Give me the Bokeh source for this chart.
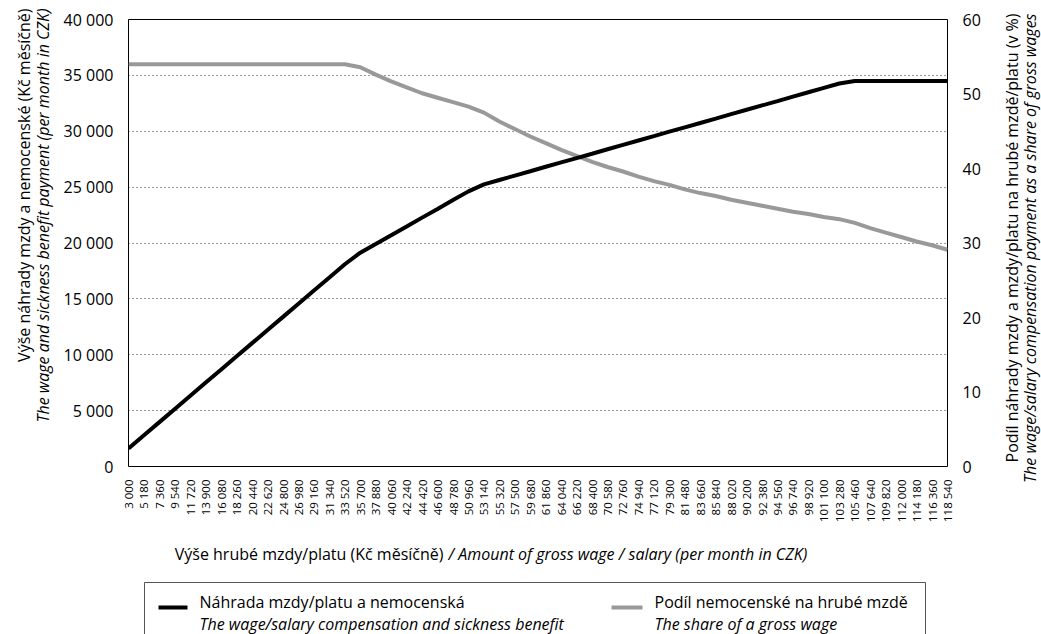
import math
from bokeh.plotting import figure
from bokeh.models import Range1d, LinearAxis, FixedTicker, Label
from bokeh.layouts import row, column
from bokeh.embed import file_html
from bokeh.resources import INLINE

# ---- data -------------------------------------------------------------
wages = [3000, 5180, 7360, 9540, 11720, 13900, 16080, 18260, 20440, 22620,
         24800, 26980, 29160, 31340, 33520, 35700, 37880, 40060, 42240, 44420,
         46600, 48780, 50960, 53140, 55320, 57500, 59680, 61860, 64040, 66220,
         68400, 70580, 72760, 74940, 77120, 79300, 81480, 83660, 85840, 88020,
         90200, 92380, 94560, 96740, 98920, 101100, 103280, 105460, 107640, 109820,
         112000, 114180, 116360, 118540]

compensation = [1620, 2800, 3970, 5150, 6330, 7510, 8680, 9860, 11040, 12220,
                13390, 14570, 15750, 16920, 18100, 19130, 19910, 20700, 21480, 22270,
                23050, 23840, 24620, 25250, 25640, 26030, 26420, 26820, 27210, 27600,
                27990, 28390, 28780, 29170, 29560, 29960, 30350, 30740, 31130, 31530,
                31920, 32310, 32700, 33100, 33490, 33880, 34270, 34500, 34500, 34500,
                34500, 34500, 34500, 34500]

share = [54.0, 54.0, 54.0, 54.0, 54.0, 54.0, 54.0, 54.0, 54.0, 54.0,
         54.0, 54.0, 54.0, 54.0, 54.0, 53.6, 52.6, 51.7, 50.9, 50.1,
         49.5, 48.9, 48.3, 47.5, 46.3, 45.3, 44.3, 43.4, 42.5, 41.7,
         40.9, 40.2, 39.6, 38.9, 38.3, 37.8, 37.2, 36.7, 36.3, 35.8,
         35.4, 35.0, 34.6, 34.2, 33.9, 33.5, 33.2, 32.7, 32.0, 31.4,
         30.8, 30.2, 29.7, 29.1]

x_tick_labels = ["3 000", "5 180", "7 360", "9 540", "11 720", "13 900", "16 080", "18 260",
                 "20 440", "22 620", "24 800", "26 980", "29 160", "31 340", "33 520", "35 700",
                 "37 880", "40 060", "42 240", "44 420", "46 600", "48 780", "50 960", "53 140",
                 "55 320", "57 500", "59 680", "61 860", "64 040", "66 220", "68 400", "70 580",
                 "72 760", "74 940", "77 120", "79 300", "81 480", "83 660", "85 840", "88 020",
                 "90 200", "92 380", "94 560", "96 740", "98 920", "101 100", "103 280", "105 460",
                 "107 640", "109 820", "112 000", "114 180", "116 360", "118 540"]

y_left_ticks = [0, 5000, 10000, 15000, 20000, 25000, 30000, 35000, 40000]
y_left_labels = ["0", "5 000", "10 000", "15 000", "20 000", "25 000", "30 000", "35 000", "40 000"]
y_right_ticks = [0, 10, 20, 30, 40, 50, 60]
y_right_labels = ["0", "10", "20", "30", "40", "50", "60"]

series_names = ["Náhrada mzdy/platu a nemocenská", "Podíl nemocenské na hrubé mzdě"]
series_names_en = ["The wage/salary compensation and sickness benefit", "The share of a gross wage"]

left_title = ["Výše náhrady mzdy a nemocenské (Kč měsíčně)",
              "The wage and sickness benefit payment (per month in CZK)"]
right_title = ["Podíl náhrady mzdy a mzdy/platu na hrubé mzdě/platu (v %)",
               "The wage/salary compensation payment as a share of gross wages"]
x_title = ["Výše hrubé mzdy/platu (Kč měsíčně)",
           "/ Amount of gross wage / salary (per month in CZK)"]

FONT = "Open Sans"
BLACK = "#000000"
GREY = "#999999"

# ---- page geometry (pixels) ---------------------------------------------
PW, PH = 1041, 634
FL, FR, FT, FB = 128, 947, 19, 466   # chart frame edges on the page
LW = 56            # left title strip
RW = 51            # right title strip
CW = PW - LW - RW  # centre column width
AH = 535           # chart height
BH = PH - AH       # x-title + legend strip


def blank(width, height, x0, x1, y_bottom, y_top):
    f = figure(width=width, height=height, output_backend="svg", toolbar_location=None,
               x_range=Range1d(x0, x1), y_range=Range1d(y_bottom, y_top),
               x_axis_location=None, y_axis_location=None, min_border=0)
    f.outline_line_color = None
    f.background_fill_color = "white"
    f.border_fill_color = "white"
    f.grid.visible = False
    return f


def lab(f, text, x, y, align="left", angle=0.0, italic=False, size="16px"):
    f.add_layout(Label(x=x, y=y, text=text, text_font=FONT, text_font_size=size,
                       text_color="black", text_align=align, text_baseline="middle",
                       angle=angle, text_font_style="italic" if italic else "normal"))


# ---- main chart -----------------------------------------------------------
p = figure(width=CW, height=AH, output_backend="svg", toolbar_location=None,
           x_range=Range1d(wages[0], wages[-1]), y_range=Range1d(0, 40000),
           min_border_left=FL - LW, min_border_right=LW + CW - FR,
           min_border_top=FT, min_border_bottom=AH - FB)
p.extra_y_ranges = {"share": Range1d(0, 60)}
p.outline_line_color = "black"
p.outline_line_width = 1
p.background_fill_color = "white"
p.border_fill_color = "white"

right_axis = LinearAxis(y_range_name="share")
p.add_layout(right_axis, "right")

p.xaxis.ticker = FixedTicker(ticks=wages)
p.xaxis.major_label_overrides = {w: t for w, t in zip(wages, x_tick_labels)}
p.xaxis.major_label_orientation = math.pi / 2
p.xaxis.major_label_text_font_size = "11.5px"
p.xaxis.major_label_standoff = 13

p.yaxis[0].ticker = FixedTicker(ticks=y_left_ticks)
p.yaxis[0].major_label_overrides = {t: l for t, l in zip(y_left_ticks, y_left_labels)}
p.yaxis[0].major_label_standoff = 15
right_axis.ticker = FixedTicker(ticks=y_right_ticks)
right_axis.major_label_overrides = {t: l for t, l in zip(y_right_ticks, y_right_labels)}
right_axis.major_label_standoff = 15

for ax in [p.xaxis[0], p.yaxis[0], right_axis]:
    ax.axis_line_color = None
    ax.major_tick_line_color = None
    ax.minor_tick_line_color = None
    ax.major_tick_out = 0
    ax.major_tick_in = 0
    ax.minor_tick_out = 0
    ax.major_label_text_font = FONT
    ax.major_label_text_color = "black"
for ax in [p.yaxis[0], right_axis]:
    ax.major_label_text_font_size = "16px"

p.xgrid.visible = False
p.ygrid.ticker = FixedTicker(ticks=y_left_ticks)
p.ygrid.grid_line_color = "#333333"
p.ygrid.grid_line_dash = "1 3"
p.ygrid.grid_line_width = 1

p.line(wages, share, y_range_name="share", line_color=GREY, line_width=4)
p.line(wages, compensation, line_color=BLACK, line_width=4)

# ---- left / right title strips (page coordinates) -------------------------
L = blank(LW, PH, 0, LW, PH, 0)
lab(L, left_title[0], 23, 8, align="right", angle=math.pi / 2)
lab(L, left_title[1], 42, 8, align="right", angle=math.pi / 2, italic=True)

R = blank(RW, PH, PW - RW, PW, PH, 0)
lab(R, right_title[0], 1011, 13, align="right", angle=math.pi / 2)
lab(R, right_title[1], 1029, 13, align="right", angle=math.pi / 2, italic=True)

# ---- x title + legend strip (page coordinates) ----------------------------
# the strip's frame is aligned by the column layout with the chart frame
B = blank(CW, BH, FL, FR, PH, AH)
lab(B, x_title[0], 443, 553, align="right")
lab(B, x_title[1], 448, 553, italic=True)

B.quad(left=[144], right=[925], top=[582], bottom=[650], fill_alpha=0,
       line_color="#555555", line_width=1)
B.segment(x0=[158], y0=[607], x1=[187], y1=[607], line_color=BLACK, line_width=4)
B.segment(x0=[611], y0=[607], x1=[642], y1=[607], line_color=GREY, line_width=4)
lab(B, series_names[0], 199, 601)
lab(B, series_names_en[0], 199, 623, italic=True)
lab(B, series_names[1], 654, 601)
lab(B, series_names_en[1], 654, 623, italic=True)

layout = row(L, column(p, B), R)
open("out.html", "w").write(file_html(layout, INLINE))
